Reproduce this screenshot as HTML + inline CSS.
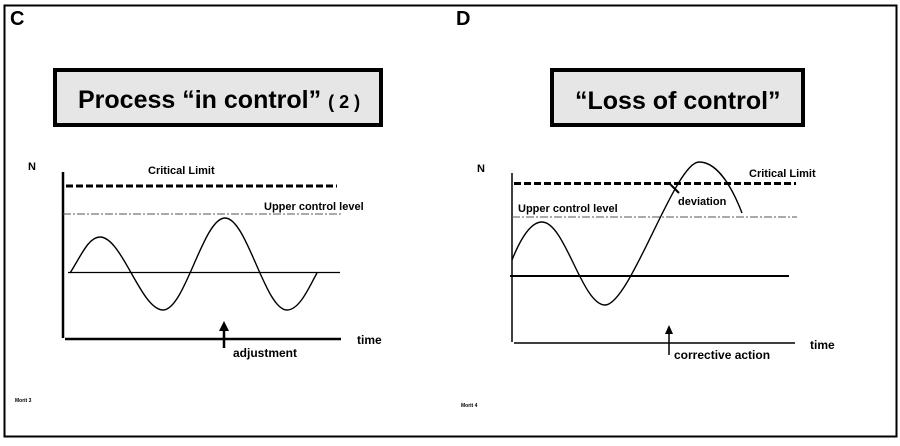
<!DOCTYPE html>
<html><head><meta charset="utf-8"><style>
html,body{margin:0;padding:0;background:#fff;}
body{width:900px;height:441px;overflow:hidden;font-family:"Liberation Sans",Arial,sans-serif;}
</style></head><body>
<svg width="900" height="441" viewBox="0 0 900 441" xmlns="http://www.w3.org/2000/svg" font-family="Liberation Sans, Arial, sans-serif" font-weight="bold">
<rect x="4.5" y="5.5" width="892" height="431" fill="none" stroke="#000" stroke-width="2"/>
<text x="10" y="25" font-size="20">C</text>
<text x="456" y="25" font-size="20">D</text>
<rect x="55" y="70" width="326" height="55" fill="#e6e6e6" stroke="#000" stroke-width="4"/>
<text x="78" y="108" font-size="25">Process “in control”<tspan font-size="18" dx="7">( 2 )</tspan></text>
<rect x="552" y="70" width="251" height="55" fill="#e6e6e6" stroke="#000" stroke-width="4"/>
<text x="575" y="109" font-size="25">“Loss of control”</text>
<g font-size="11">
<text x="28" y="170">N</text>
<text x="148" y="174">Critical Limit</text>
<text x="264" y="210">Upper control level</text>
<text x="357" y="344" font-size="12">time</text>
<text x="233" y="357" font-size="12">adjustment</text>
</g>
<text x="15" y="402" font-size="5">Morit 3</text>
<line x1="63" y1="172" x2="63" y2="338" stroke="#000" stroke-width="2.5"/>
<line x1="65" y1="339" x2="341" y2="339" stroke="#000" stroke-width="2.5"/>
<line x1="66" y1="186" x2="337" y2="186" stroke="#000" stroke-width="3" stroke-dasharray="7,3"/>
<line x1="63" y1="214" x2="343" y2="214" stroke="#555" stroke-width="1" stroke-dasharray="8,2,2,2"/>
<line x1="68" y1="272.5" x2="340" y2="272.5" stroke="#000" stroke-width="1.3"/>
<path d="M70,273 C80,258 88,237 100,237 C122,237 141,310 163,310 C185,310 203,218 225,218 C247,218 265,310 287,310 C300,310 310,285 317,273" fill="none" stroke="#000" stroke-width="1.4"/>
<line x1="224" y1="348" x2="224" y2="330" stroke="#000" stroke-width="2.5"/>
<polygon points="224,321 219,331 229,331" fill="#000"/>
<g font-size="11">
<text x="477" y="172">N</text>
<text x="749" y="177">Critical Limit</text>
<text x="518" y="212">Upper control level</text>
<text x="678" y="205">deviation</text>
<text x="810" y="349" font-size="12">time</text>
<text x="674" y="359" font-size="12">corrective action</text>
</g>
<text x="461" y="407" font-size="5">Morit 4</text>
<line x1="512" y1="173" x2="512" y2="342" stroke="#000" stroke-width="1.5"/>
<line x1="514" y1="343" x2="795" y2="343" stroke="#000" stroke-width="1.5"/>
<line x1="514" y1="183.5" x2="796" y2="183.5" stroke="#000" stroke-width="3" stroke-dasharray="7,3"/>
<line x1="512" y1="217" x2="797" y2="217" stroke="#555" stroke-width="1" stroke-dasharray="8,2,2,2"/>
<line x1="510" y1="276" x2="789" y2="276" stroke="#000" stroke-width="2"/>
<path d="M512,260 C520,240 530,222 542,222 C565,222 582,305 605,305 C630,305 675,162 699,162 C720,162 735,195 742,213" fill="none" stroke="#000" stroke-width="1.4"/>
<line x1="679" y1="193" x2="669" y2="183" stroke="#000" stroke-width="2"/>
<line x1="669" y1="355" x2="669" y2="333" stroke="#000" stroke-width="1.5"/>
<polygon points="669,325 665,334 673,334" fill="#000"/>
</svg>
</body></html>
